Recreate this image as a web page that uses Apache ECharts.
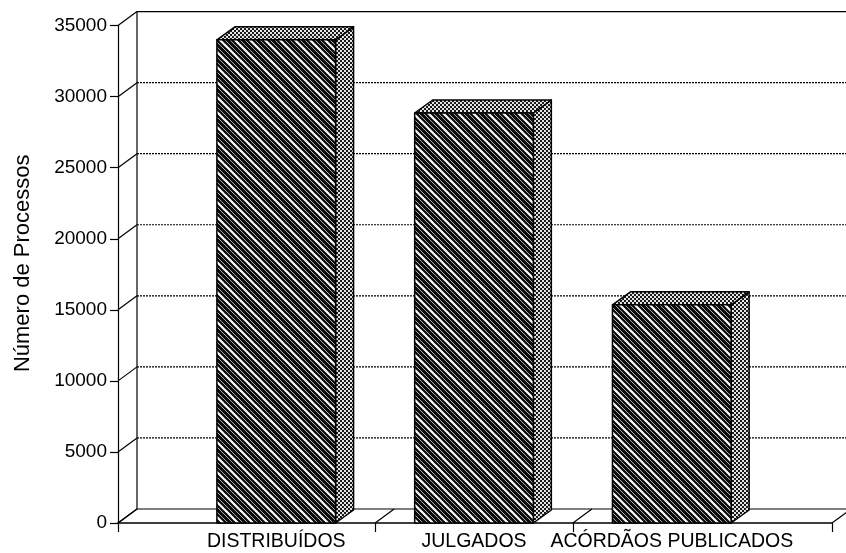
<!DOCTYPE html>
<html>
<head>
<meta charset="utf-8">
<style>html,body{margin:0;padding:0;background:#fff}#chart{width:846px;height:553px}</style>
<script src="https://cdn.jsdelivr.net/npm/echarts@6/dist/echarts.min.js"></script>
</head>
<body>
<div id="chart"></div>
<script>
const categories = ['DISTRIBUÍDOS', 'JULGADOS', 'ACÓRDÃOS PUBLICADOS'];
const processos = [34000, 28850, 15350];
const valueTicks = [0, 5000, 10000, 15000, 20000, 25000, 30000, 35000];
const floorTicks = [-0.8, 0.5, 1.5, 2.81];

const INK = '#000';
const DEPTH_X = 19, DEPTH_Y = -14;
const BAR_DEPTH_X = 18, BAR_DEPTH_Y = -13;
const BAR_WIDTH = 0.6;

function tile(size, paint) {
  const c = document.createElement('canvas');
  c.width = c.height = size;
  paint(c.getContext('2d'), size);
  return c;
}

// Dense diagonal hatch with a wider white stripe every few lines.
const hatch = tile(15, (g, s) => {
  g.fillStyle = '#0c0c0c';
  g.fillRect(0, 0, s, s);
  const stripe = (off, color, w) => {
    g.strokeStyle = color;
    g.lineWidth = w;
    for (let k = -s; k <= s; k += s) {
      g.beginPath();
      g.moveTo(k + off - 2, -2);
      g.lineTo(k + off + s + 2, s + 2);
      g.stroke();
    }
  };
  stripe(0, '#fff', 2.2);
  stripe(5, '#aaa', 1);
  stripe(10, '#aaa', 1);
});

// Coarse checker stipple for the top and side faces.
const stipple = tile(4, (g) => {
  g.fillStyle = '#e4e4e4';
  g.fillRect(0, 0, 4, 4);
  g.fillStyle = '#1a1a1a';
  g.fillRect(0, 0, 2, 2);
  g.fillRect(2, 2, 2, 2);
});

const line = (x1, y1, x2, y2, style) => ({
  type: 'line', shape: { x1, y1, x2, y2 }, style: Object.assign({ stroke: INK, lineWidth: 1.2 }, style)
});

function renderWall(params, api) {
  const value = api.value(0);
  const [x, y] = api.coord([-0.8, value]);
  const right = api.coord([2.81, value])[0];
  const kids = [line(x, y, x + DEPTH_X, y + DEPTH_Y)];
  if (value === 0) {
    kids.push(line(x + DEPTH_X, y + DEPTH_Y, right + DEPTH_X, y + DEPTH_Y));
  } else if (value === 35000) {
    kids.push(line(x + DEPTH_X, y + DEPTH_Y, right + DEPTH_X, y + DEPTH_Y, { lineWidth: 1.4 }));
    const base = api.coord([-0.8, 0])[1];
    kids.push(line(x + DEPTH_X, y + DEPTH_Y, x + DEPTH_X, base + DEPTH_Y));
  } else {
    kids.push(line(x + DEPTH_X, y + DEPTH_Y, right + DEPTH_X, y + DEPTH_Y, { lineDash: [2, 1] }));
  }
  return { type: 'group', children: kids };
}

function renderFloor(params, api) {
  const [x, y] = api.coord([api.value(0), 0]);
  return line(x, y, x + DEPTH_X, y + DEPTH_Y);
}

function renderBar(params, api) {
  const i = api.value(0);
  const [x0, y0] = api.coord([i - BAR_WIDTH / 2, 0]);
  const [x1, y1] = api.coord([i + BAR_WIDTH / 2, api.value(1)]);
  const dx = BAR_DEPTH_X, dy = BAR_DEPTH_Y;
  const edge = { stroke: INK, lineWidth: 1.5, lineJoin: 'round' };
  const poly = (points, fill) => ({
    type: 'polygon', shape: { points }, style: Object.assign({ fill: { image: fill, repeat: 'repeat' } }, edge)
  });
  return {
    type: 'group',
    children: [
      poly([[x1, y1], [x1 + dx, y1 + dy], [x1 + dx, y0 + dy], [x1, y0]], stipple),
      poly([[x0, y1], [x0 + dx, y1 + dy], [x1 + dx, y1 + dy], [x1, y1]], stipple),
      poly([[x0, y1], [x1, y1], [x1, y0], [x0, y0]], hatch)
    ]
  };
}

const chart = echarts.init(document.getElementById('chart'), null, { renderer: 'canvas' });
chart.setOption({
  animation: false,
  backgroundColor: '#fff',
  textStyle: { fontFamily: '"Liberation Sans", Arial, sans-serif', color: INK },
  grid: { left: 118, right: 14, top: 25.6, bottom: 30, containLabel: false },
  xAxis: {
    type: 'value',
    min: -0.8,
    max: 2.81,
    splitLine: { show: false },
    axisLine: { show: true, onZero: false, lineStyle: { color: INK, width: 1.5 } },
    axisTick: { show: true, length: 9, customValues: floorTicks, lineStyle: { color: INK, width: 1.2 } },
    axisLabel: {
      customValues: [0, 1, 2],
      formatter: (v) => categories[v],
      fontSize: 19.5,
      color: INK,
      margin: 9
    }
  },
  yAxis: {
    type: 'value',
    min: 0,
    max: 35000,
    interval: 5000,
    name: 'Número de Processos',
    nameLocation: 'middle',
    nameGap: 84,
    nameTextStyle: { fontSize: 22, color: INK, padding: [0, 0, 0, 22] },
    splitLine: { show: false },
    axisLine: { show: true, onZero: false, lineStyle: { color: INK, width: 1.2 } },
    axisTick: { show: true, length: 8, lineStyle: { color: INK, width: 1.2 } },
    axisLabel: {
      formatter: (v) => String(v),
      fontSize: 19,
      color: INK,
      margin: 11,
      padding: [3, 0, 0, 0]
    }
  },
  series: [
    {
      name: 'parede',
      type: 'custom',
      clip: false,
      silent: true,
      z: 1,
      renderItem: renderWall,
      encode: { y: 0 },
      data: valueTicks.map((v) => [v])
    },
    {
      name: 'piso',
      type: 'custom',
      clip: false,
      silent: true,
      z: 1,
      renderItem: renderFloor,
      encode: { x: 0 },
      data: floorTicks.map((v) => [v])
    },
    {
      name: 'Número de Processos',
      type: 'custom',
      clip: false,
      z: 3,
      renderItem: renderBar,
      encode: { x: 0, y: 1 },
      data: processos.map((v, i) => [i, v])
    }
  ]
});
</script>
</body>
</html>
